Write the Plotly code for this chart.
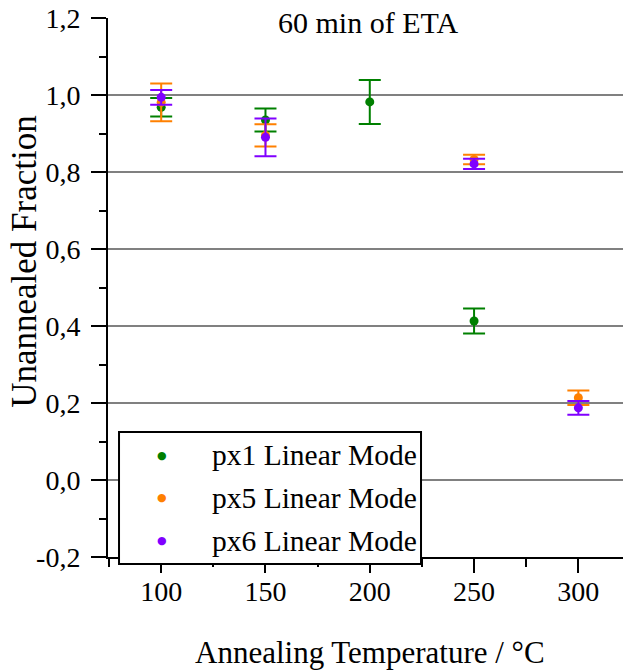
import plotly.graph_objects as go

# Annealing temperatures (°C) and unannealed fractions per pixel
px1_temp = [100, 150, 200, 250]
px1_frac = [0.968, 0.935, 0.982, 0.413]
px1_err = [0.024, 0.030, 0.057, 0.0325]

px5_temp = [100, 150, 250, 300]
px5_frac = [0.981, 0.895, 0.8325, 0.2135]
px5_err = [0.049, 0.029, 0.0125, 0.019]

px6_temp = [100, 150, 250, 300]
px6_frac = [0.994, 0.890, 0.821, 0.1875]
px6_err = [0.019, 0.049, 0.0135, 0.018]

series_names = ["px1 Linear Mode", "px5 Linear Mode", "px6 Linear Mode"]
series_colors = ["#008000", "#ff8000", "#8000ff"]

x_ticks = [100, 150, 200, 250, 300]
y_ticks = [-0.2, 0.0, 0.2, 0.4, 0.6, 0.8, 1.0, 1.2]
y_tick_text = ["-0,2", "0,0", "0,2", "0,4", "0,6", "0,8", "1,0", "1,2"]
grid_values = [0.0, 0.2, 0.4, 0.6, 0.8, 1.0]

FONT = "Liberation Serif, serif"

fig = go.Figure()

series = [
    (px1_temp, px1_frac, px1_err),
    (px5_temp, px5_frac, px5_err),
    (px6_temp, px6_frac, px6_err),
]
for (xs, ys, es), name, color in zip(series, series_names, series_colors):
    fig.add_trace(go.Scatter(
        x=xs, y=ys, mode="markers", name=name, showlegend=False,
        marker=dict(color=color, size=9),
        error_y=dict(type="data", array=es, visible=True,
                     color=color, thickness=2, width=11),
    ))

# horizontal grid lines at the major ticks inside the frame
for g in grid_values:
    fig.add_shape(type="line", xref="paper", yref="y", x0=0, x1=1, y0=g, y1=g,
                  line=dict(color="#808080", width=2), layer="below")

# boxed key in the lower-left corner, drawn over the axes
fig.add_shape(type="rect", xref="paper", yref="paper",
              x0=0.0214, x1=0.6078, y0=-0.013, y1=0.2319,
              line=dict(color="black", width=2), fillcolor="white", layer="above")
key_rows = [0.1892, 0.1095, 0.0297]
for row_y, name, color in zip(key_rows, series_names, series_colors):
    fig.add_annotation(text="●", xref="paper", yref="paper", x=0.1049, y=row_y,
                       xanchor="center", yanchor="middle", showarrow=False,
                       font=dict(family="DejaVu Sans", size=11, color=color))
    fig.add_annotation(text=name, xref="paper", yref="paper", x=0.198, y=row_y,
                       xanchor="left", yanchor="middle", showarrow=False,
                       font=dict(family=FONT, size=29.5, color="black"))

axis_font = dict(family=FONT, size=28, color="black")

fig.update_xaxes(
    range=[74.5, 321.4],
    tickmode="array", tickvals=x_ticks, ticktext=[str(v) for v in x_ticks],
    ticks="outside", ticklen=14, tickwidth=2, tickcolor="black",
    showline=True, linecolor="black", linewidth=2,
    showgrid=False, zeroline=False,
    tickfont=axis_font, ticklabelstandoff=-6,
    minor=dict(tickmode="linear", tick0=75, dtick=50, ticks="outside",
               ticklen=8, tickwidth=2, tickcolor="black", showgrid=False),
)
fig.update_yaxes(
    range=[-0.2, 1.2],
    tickmode="array", tickvals=y_ticks, ticktext=y_tick_text,
    ticks="outside", ticklen=15, tickwidth=2, tickcolor="black",
    showline=True, linecolor="black", linewidth=2,
    showgrid=False, zeroline=False,
    tickfont=axis_font, ticklabelstandoff=5,
    minor=dict(tickmode="linear", tick0=-0.1, dtick=0.2, ticks="outside",
               ticklen=7, tickwidth=2, tickcolor="black", showgrid=False),
)

fig.add_annotation(text="60 min of ETA", xref="paper", yref="paper",
                   x=0.5049, y=0.992, xanchor="center", yanchor="middle",
                   showarrow=False, font=dict(family=FONT, size=30, color="black"))
fig.add_annotation(text="Annealing Temperature / °C", xref="paper", yref="paper",
                   x=0.5087, y=-0.177, xanchor="center", yanchor="middle",
                   showarrow=False, font=dict(family=FONT, size=31, color="black"))
fig.add_annotation(text="Unannealed Fraction", xref="paper", yref="paper",
                   x=-0.161, y=0.5477, xanchor="center", yanchor="middle",
                   textangle=-90, showarrow=False,
                   font=dict(family=FONT, size=35, color="black"))

fig.update_layout(
    width=623, height=670,
    margin=dict(l=108, r=0, t=18, b=113),
    plot_bgcolor="white", paper_bgcolor="white",
    showlegend=False,
)

fig.write_html("out.html")
